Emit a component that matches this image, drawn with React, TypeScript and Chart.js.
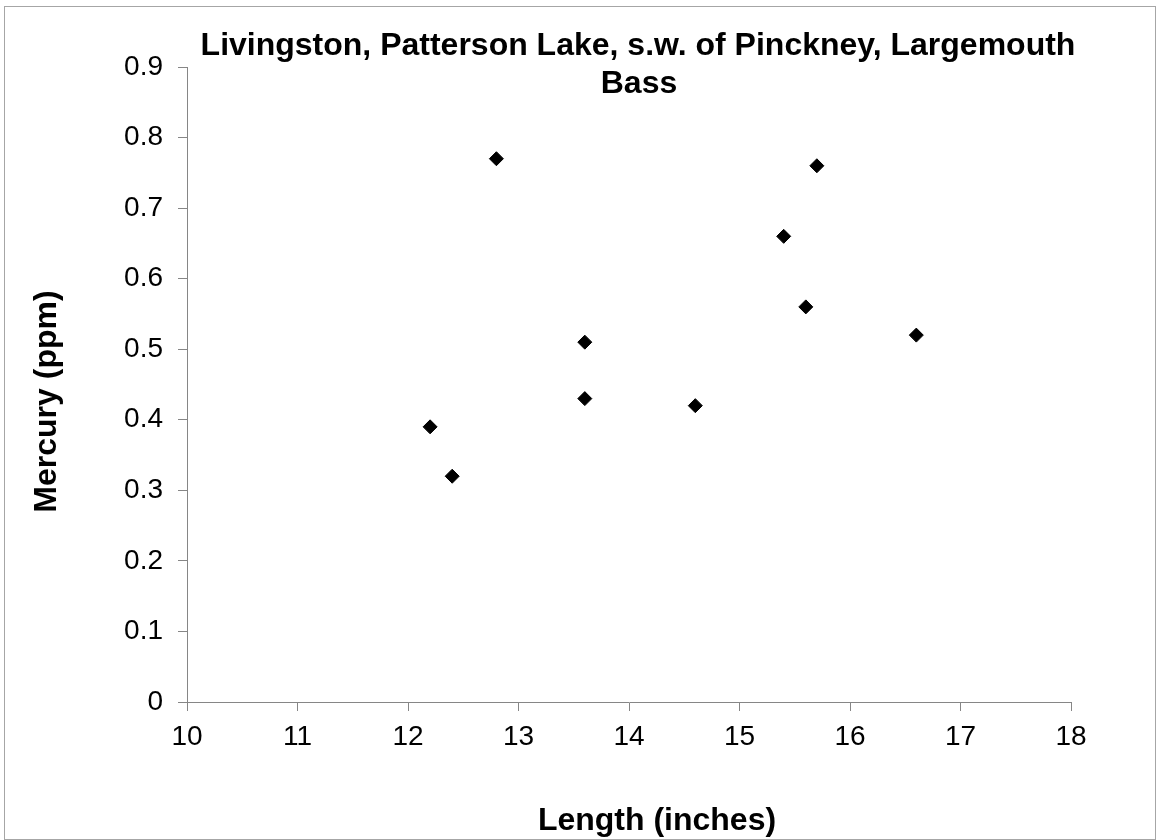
import React, { useEffect, useRef } from "react";
import { Chart, registerables } from "chart.js";

Chart.register(...registerables);

const lengthInches: number[] = [12.2, 12.4, 12.8, 13.6, 13.6, 14.6, 15.4, 15.6, 15.7, 16.6];
const mercuryPpm: number[] = [0.39, 0.32, 0.77, 0.51, 0.43, 0.42, 0.66, 0.56, 0.76, 0.52];
const titleLines: string[] = ["Livingston, Patterson Lake, s.w. of Pinckney, Largemouth", "Bass"];
const xAxisTitle = "Length (inches)";
const yAxisTitle = "Mercury (ppm)";

const FONT = '"Liberation Sans", Arial, Helvetica, sans-serif';

const decorPlugin = {
  id: "decor",
  beforeDraw(chart: any) {
    const ctx = chart.ctx;
    ctx.save();
    ctx.fillStyle = "#ffffff";
    ctx.fillRect(0, 0, chart.width, chart.height);
    ctx.strokeStyle = "#a6a6a6";
    ctx.lineWidth = 1;
    ctx.strokeRect(4.5, 6.5, 1151, 833);
    ctx.restore();
  },
  afterDraw(chart: any) {
    const ctx = chart.ctx;
    ctx.save();
    ctx.fillStyle = "#000000";
    ctx.font = `bold 32px ${FONT}`;
    ctx.textAlign = "center";
    ctx.textBaseline = "alphabetic";
    ctx.fillText(titleLines[0], 638, 55);
    ctx.fillText(titleLines[1], 639, 93);
    ctx.fillText(xAxisTitle, 657, 830);
    ctx.translate(56, 401.5);
    ctx.rotate(-Math.PI / 2);
    ctx.fillText(yAxisTitle, 0, 0);
    ctx.restore();
  },
};

export default function App() {
  const canvasRef = useRef<HTMLCanvasElement | null>(null);

  useEffect(() => {
    if (!canvasRef.current) return;
    const points = lengthInches.map((x, i) => ({ x, y: mercuryPpm[i] }));
    const chart = new Chart(canvasRef.current, {
      type: "scatter",
      data: {
        datasets: [
          {
            label: "Mercury",
            data: points,
            pointStyle: "rectRot",
            pointRadius: 7,
            pointHoverRadius: 7,
            backgroundColor: "#000000",
            borderColor: "#000000",
            borderWidth: 1,
          },
        ],
      },
      options: {
        responsive: false,
        animation: false,
        events: [],
        layout: { padding: { left: 0, top: 67, right: 85, bottom: 0 } },
        plugins: {
          legend: { display: false },
          title: { display: false },
          tooltip: { enabled: false },
        },
        scales: {
          x: {
            type: "linear",
            min: 10,
            max: 18,
            afterFit: (s: any) => {
              s.height = 138;
            },
            ticks: {
              stepSize: 1,
              color: "#000000",
              padding: 9,
              font: { family: FONT, size: 28 },
            },
            grid: {
              drawOnChartArea: false,
              drawTicks: true,
              tickLength: 9,
              color: "#868686",
            },
            border: { color: "#868686", width: 1 },
          },
          y: {
            type: "linear",
            min: 0,
            max: 0.9,
            afterFit: (s: any) => {
              s.width = 187;
            },
            ticks: {
              stepSize: 0.1,
              color: "#000000",
              padding: 15,
              font: { family: FONT, size: 28 },
              callback: (v: any) => String(Math.round(Number(v) * 10) / 10),
            },
            grid: {
              drawOnChartArea: false,
              drawTicks: true,
              tickLength: 9,
              color: "#868686",
            },
            border: { color: "#868686", width: 1 },
          },
        },
      },
      plugins: [decorPlugin],
    });
    return () => chart.destroy();
  }, []);

  return (
    <div style={{ position: "absolute", left: 0, top: 0, width: 1156, height: 840 }}>
      <canvas ref={canvasRef} width={1156} height={840} style={{ display: "block" }} />
    </div>
  );
}
